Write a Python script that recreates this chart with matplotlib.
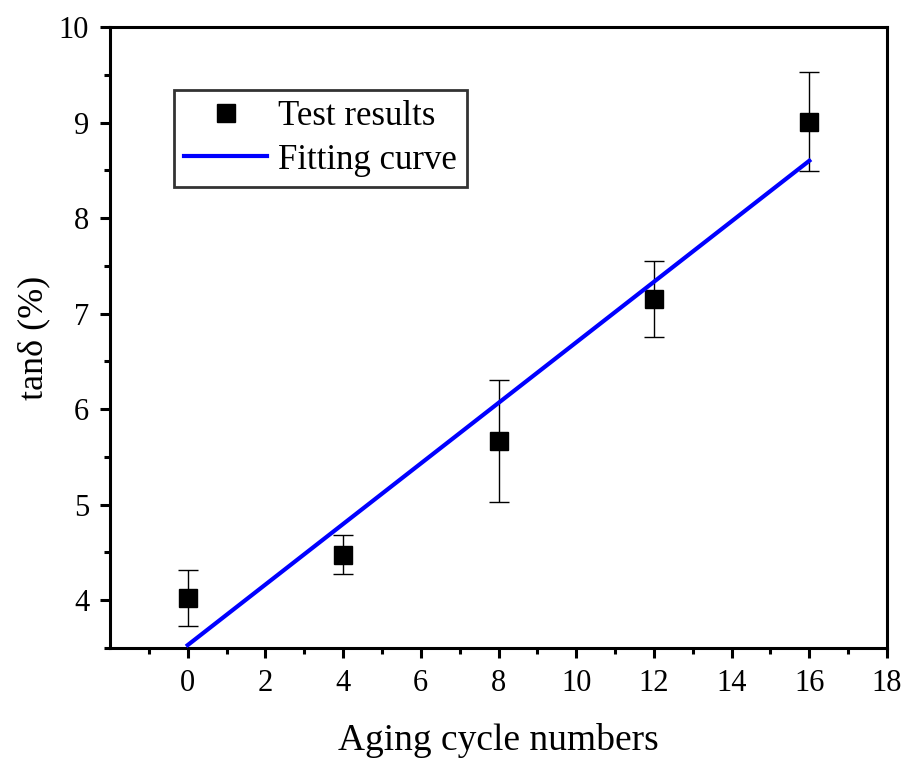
import numpy as np
import matplotlib.pyplot as plt

plt.rcParams['font.family'] = ['Liberation Serif', 'DejaVu Serif']
plt.rcParams['mathtext.fontset'] = 'stix'

# data
cycles = [0, 4, 8, 12, 16]
tand = [4.02, 4.47, 5.67, 7.15, 9.01]
err_up = [0.30, 0.21, 0.64, 0.40, 0.52]
err_dn = [0.29, 0.20, 0.64, 0.40, 0.52]

fit_x = [0, 16]
fit_y = [3.53, 8.60]

fig = plt.figure(figsize=(9.03, 7.6), dpi=100)
ax = fig.add_axes([0.1218, 0.1474, 0.8605, 0.8171])

ax.errorbar(cycles, tand, yerr=[err_dn, err_up], fmt='none', ecolor='black',
            elinewidth=1.0, capsize=7, capthick=1.0, zorder=2)
ax.plot(cycles, tand, 's', color='black', markersize=13, label='Test results', zorder=3)
ax.plot(fit_x, fit_y, '-', color='#0000ff', linewidth=3, label='Fitting curve', zorder=4)

ax.set_xlim(-2, 18)
ax.set_ylim(3.5, 10)
ax.set_xticks(np.arange(0, 19, 2))
ax.set_xticks(np.arange(-1, 18, 2), minor=True)
ax.set_yticks(np.arange(4, 11, 1))
ax.set_yticks(np.arange(3.5, 10, 1), minor=True)

for s in ax.spines.values():
    s.set_linewidth(2.2)
ax.tick_params(which='major', direction='out', length=7, width=2.2, labelsize=22,
               top=False, right=False, pad=8)
ax.tick_params(which='minor', direction='out', length=4, width=2.2,
               top=False, right=False)

ax.set_xlabel('Aging cycle numbers', fontsize=27, labelpad=18)
ax.set_ylabel('tanδ (%)', fontsize=26, labelpad=6)

leg = ax.legend(loc='upper left', bbox_to_anchor=(0.082, 0.899), borderaxespad=0,
                fontsize=25, frameon=True, fancybox=False, handlelength=2.4,
                handletextpad=0.3, labelspacing=0.3, borderpad=0.3)
leg.get_frame().set_edgecolor('black')
leg.get_frame().set_linewidth(2)

fig.savefig('out.png', dpi=100)
